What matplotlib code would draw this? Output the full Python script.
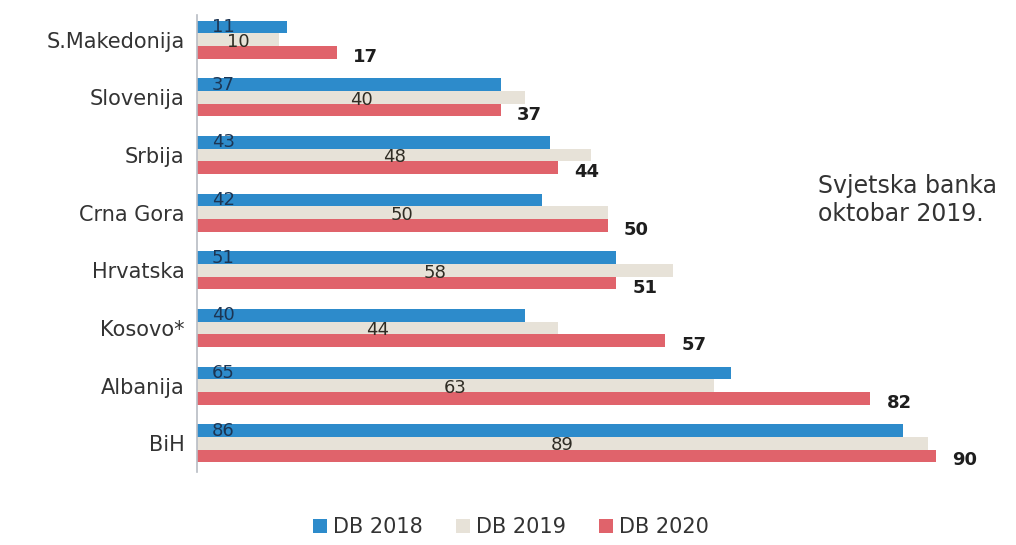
import matplotlib.pyplot as plt
import numpy as np

countries = ["S.Makedonija", "Slovenija", "Srbija", "Crna Gora",
             "Hrvatska", "Kosovo*", "Albanija", "BiH"]
db2018 = [11, 37, 43, 42, 51, 40, 65, 86]
db2019 = [10, 40, 48, 50, 58, 44, 63, 89]
db2020 = [17, 37, 44, 50, 51, 57, 82, 90]
series_names = ["DB 2018", "DB 2019", "DB 2020"]

BLUE = "#2d8bcb"
BEIGE = "#e7e2d8"
RED = "#e0636b"


def main():
    plt.rcParams["font.family"] = "DejaVu Sans"
    W, H = 1016, 545
    fig = plt.figure(figsize=(W/100, H/100), dpi=100)
    ax = fig.add_axes([197/W, 1 - 472/H, 819/W, 457/H])

    y = np.arange(len(countries))
    bh = 0.22
    b1 = ax.barh(y - bh, db2018, height=bh, color=BLUE, label=series_names[0])
    b2 = ax.barh(y, db2019, height=bh, color=BEIGE, label=series_names[1])
    b3 = ax.barh(y + bh, db2020, height=bh, color=RED, label=series_names[2])

    # 2018 at the bar base, 2019 in the middle, 2020 past the end
    for yi, v in zip(y, db2018):
        ax.text(1.8, yi - bh, str(v), ha="left", va="center",
                fontsize=13, color="#1c3553")
    for yi, v in zip(y, db2019):
        ax.text(v/2, yi + 0.04, str(v), ha="center", va="center",
                fontsize=13, color="#2f2c24")
    for yi, v in zip(y, db2020):
        ax.text(v + 2.0, yi + bh + 0.08, str(v), ha="left", va="center",
                fontsize=13, fontweight="bold", color="#1e1e1e")

    ax.set_xlim(0, 99.75)
    ax.set_ylim(7.5, -0.43)
    ax.set_yticks(y)
    ax.set_yticklabels(countries, fontsize=15, color="#333333")
    ax.tick_params(axis="y", length=0, pad=9)
    ax.set_xticks([])
    for side in ["top", "right", "bottom"]:
        ax.spines[side].set_visible(False)
    ax.spines["left"].set_color("#b8bcc4")
    ax.spines["left"].set_linewidth(1.2)

    fig.text(818/W, 1 - 200/H, "Svjetska banka\noktobar 2019.",
             ha="left", va="center", fontsize=17, color="#333333",
             linespacing=1.25)

    fig.legend(handles=[b1, b2, b3], labels=series_names,
               loc="center", bbox_to_anchor=(511/W, 1 - 527/H),
               ncol=3, frameon=False, fontsize=15, handlelength=0.65,
               handleheight=0.65, handletextpad=0.3, columnspacing=1.6,
               labelcolor="#333333")

    fig.savefig("out.png", dpi=100)
    plt.close(fig)


if __name__ == "__main__":
    main()
